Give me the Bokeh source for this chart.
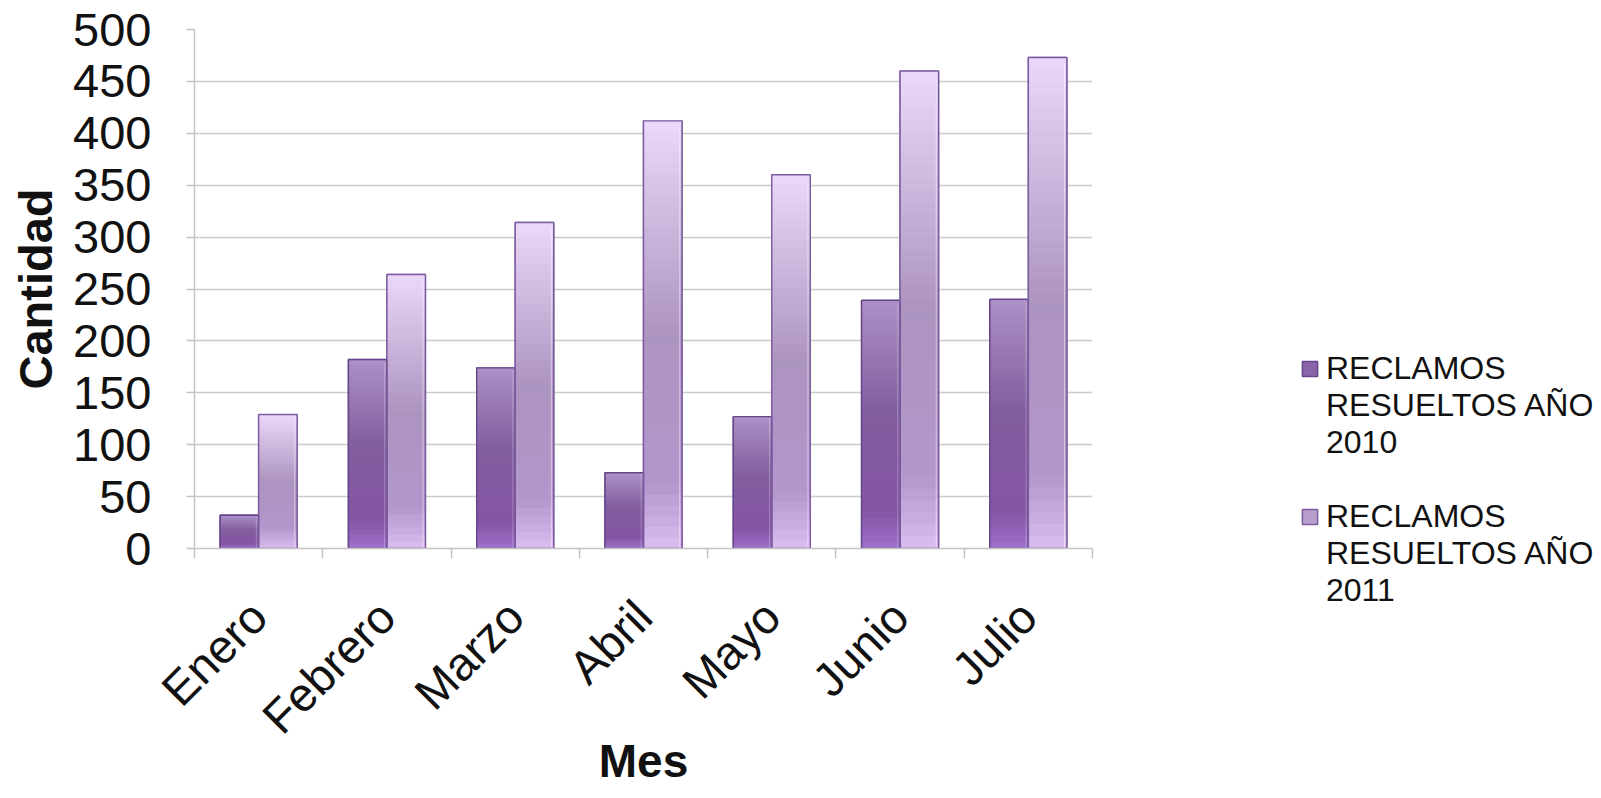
import numpy as np
from bokeh.plotting import figure
from bokeh.models import (Range1d, FixedTicker, Legend, LegendItem,
                          CustomJSTickFormatter)
from bokeh.core.properties import value
from bokeh.embed import file_html
from bokeh.resources import INLINE

# ---------------- data ----------------
months = ["Enero", "Febrero", "Marzo", "Abril", "Mayo", "Junio", "Julio"]
resueltos_2010 = [32, 182, 174, 73, 127, 239, 240]
resueltos_2011 = [129, 264, 314, 412, 360, 460, 473]
y_ticks = [0, 50, 100, 150, 200, 250, 300, 350, 400, 450, 500]
legend_2010 = ["RECLAMOS", "RESUELTOS AÑO", "2010"]
legend_2011 = ["RECLAMOS", "RESUELTOS AÑO", "2011"]
x_title = "Mes"
y_title = "Cantidad"

FONT = "Liberation Sans"

# gradient stops (t = 0 top of bar, t = 1 bottom)
stops_2010 = [(0.0, (172, 144, 198)), (0.45, (130, 94, 158)), (0.85, (132, 84, 164)), (1.0, (160, 112, 204))]
stops_2011 = [(0.0, (236, 216, 250)), (0.5, (172, 148, 192)), (0.85, (178, 150, 204)), (1.0, (218, 190, 242))]
edge_2010 = "#66468a"
edge_2011 = "#7c5c9e"
mid_2010 = "#8a64a8"
mid_2011 = "#b89ecd"


def interp(stops, t):
    for (t0, c0), (t1, c1) in zip(stops[:-1], stops[1:]):
        if t0 <= t <= t1:
            f = (t - t0) / (t1 - t0)
            return "#%02x%02x%02x" % tuple(int(round(a + (b - a) * f)) for a, b in zip(c0, c1))
    return "#%02x%02x%02x" % stops[-1][1]


p = figure(frame_width=898, frame_height=519,
           min_border_left=194, min_border_right=493,
           min_border_top=29, min_border_bottom=234,
           x_range=Range1d(0, 7), y_range=Range1d(0, 500),
           output_backend="svg", toolbar_location=None, tools="")
p.outline_line_color = None
p.background_fill_color = "white"
p.border_fill_color = "white"

idx = np.arange(len(months))
x2010 = idx + 0.35
x2011 = idx + 0.65
bw = 0.3
N = 40
v10 = np.array(resueltos_2010, dtype=float)
v11 = np.array(resueltos_2011, dtype=float)

# base fill (also used as legend swatch)
base10 = p.vbar(x=x2010, width=bw, bottom=0, top=v10, fill_color=mid_2010,
                line_color=edge_2010, line_width=1.5)
base11 = p.vbar(x=x2011, width=bw, bottom=0, top=v11, fill_color=mid_2011,
                line_color=edge_2011, line_width=1.5)

for k in range(N):
    lo, hi = k / N, (k + 1) / N
    t = 1 - (k + 0.5) / N
    c10 = interp(stops_2010, t)
    c11 = interp(stops_2011, t)
    p.vbar(x=x2010, width=bw, bottom=v10 * lo, top=v10 * hi + 0.7,
           fill_color=c10, line_color=None)
    p.vbar(x=x2011, width=bw, bottom=v11 * lo, top=v11 * hi + 0.7,
           fill_color=c11, line_color=None)

# bevel highlight near right edge
p.vbar(x=x2010 + bw / 2 - 0.018, width=0.008, bottom=0, top=v10 * 0.985,
       fill_color="white", fill_alpha=0.25, line_color=None)
p.vbar(x=x2011 + bw / 2 - 0.018, width=0.008, bottom=0, top=v11 * 0.985,
       fill_color="white", fill_alpha=0.45, line_color=None)
# outlines
p.vbar(x=x2010, width=bw, bottom=0, top=v10, fill_alpha=0, line_color=edge_2010, line_width=1.4)
p.vbar(x=x2011, width=bw, bottom=0, top=v11, fill_alpha=0, line_color=edge_2011, line_width=1.4)

# axes
p.xgrid.visible = False
p.ygrid.grid_line_color = "#cccccc"
p.ygrid.grid_line_width = 1.5
p.yaxis.ticker = FixedTicker(ticks=y_ticks)
p.yaxis.axis_line_color = "#c4c4c4"
p.yaxis.axis_line_width = 1.5
p.yaxis.major_tick_line_color = "#c4c4c4"
p.yaxis.major_tick_line_width = 1.5
p.yaxis.major_tick_out = 8
p.yaxis.major_tick_in = 0
p.yaxis.minor_tick_line_color = None
p.yaxis.major_label_standoff = 35
p.yaxis.major_label_text_font = FONT
p.yaxis.major_label_text_font_size = "47px"
p.yaxis.major_label_text_color = "#111111"
p.yaxis.axis_label = y_title
p.yaxis.axis_label_text_font = FONT
p.yaxis.axis_label_text_font_style = "bold"
p.yaxis.axis_label_text_font_size = "47px"
p.yaxis.axis_label_text_color = "#111111"
p.yaxis.axis_label_standoff = 8

p.xaxis.ticker = FixedTicker(ticks=list(idx + 0.5), minor_ticks=list(range(len(months) + 1)))
p.xaxis.formatter = CustomJSTickFormatter(args=dict(months=months),
                                          code="return months[Math.floor(tick)]")
p.xaxis.axis_line_color = "#c4c4c4"
p.xaxis.axis_line_width = 1.5
p.xaxis.major_tick_line_color = None
p.xaxis.minor_tick_line_color = "#c4c4c4"
p.xaxis.minor_tick_line_width = 1.5
p.xaxis.minor_tick_out = 10
p.xaxis.minor_tick_in = 0
p.xaxis.major_label_orientation = np.pi / 4
p.xaxis.major_label_standoff = 50
p.xaxis.major_label_text_font = FONT
p.xaxis.major_label_text_font_size = "47px"
p.xaxis.major_label_text_color = "#111111"
p.xaxis.axis_label = x_title
p.xaxis.axis_label_text_font = FONT
p.xaxis.axis_label_text_font_style = "bold"
p.xaxis.axis_label_text_font_size = "46px"
p.xaxis.axis_label_text_color = "#111111"
p.xaxis.axis_label_standoff = -30

# legend (one row per text line, square only on first line)
blank = p.vbar(x=[], top=[], width=bw, fill_alpha=0, line_alpha=0)

items = [LegendItem(label=value(legend_2010[0]), renderers=[base10])]
items += [LegendItem(label=value(s), renderers=[blank]) for s in legend_2010[1:]]
items += [LegendItem(label=value(" "), renderers=[blank])]
items += [LegendItem(label=value(legend_2011[0]), renderers=[base11])]
items += [LegendItem(label=value(s), renderers=[blank]) for s in legend_2011[1:]]

legend = Legend(items=items, location=(208, -61), orientation="vertical",
                padding=0, margin=0, spacing=0,
                glyph_width=19, glyph_height=19, label_height=37,
                label_standoff=7, label_text_font=FONT, label_text_font_size="32px",
                label_text_color="#111111", label_text_baseline="middle",
                border_line_color=None, background_fill_alpha=0)
p.add_layout(legend, "right")

open("out.html", "w").write(file_html(p, INLINE))
